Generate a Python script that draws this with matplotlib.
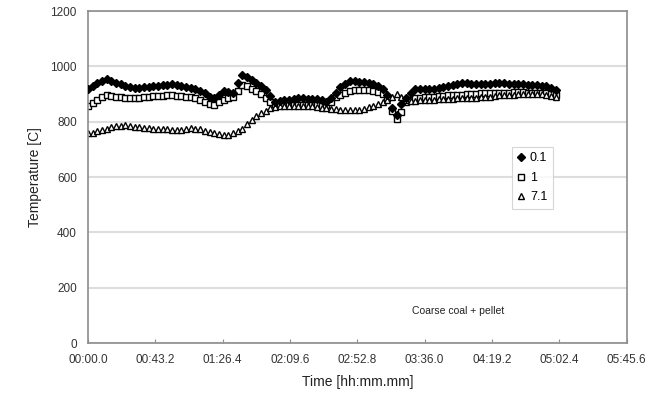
import matplotlib
matplotlib.use('Agg')
import numpy as np
import matplotlib.pyplot as plt

plt.rcParams['font.family'] = ['Liberation Sans', 'DejaVu Sans']

# time in seconds, one reading every 3 s
time_s = np.arange(0, 301, 3)

temp_01 = [920, 930, 940, 948, 955, 948, 940, 935, 930, 925,
           922, 922, 924, 926, 928, 930, 932, 934, 935, 932,
           928, 925, 922, 918, 910, 903, 890, 886, 898, 910,
           908, 905, 940, 968, 960, 950, 940, 928, 915, 892,
           872, 875, 878, 880, 882, 885, 884, 883, 882, 882,
           878, 872, 885, 905, 925, 938, 946, 946, 944, 942,
           940, 935, 928, 920, 895, 850, 825, 865, 885, 905,
           920, 920, 918, 917, 918, 922, 926, 930, 934, 937,
           940, 940, 938, 936, 935, 935, 937, 939, 940, 940,
           938, 936, 935, 935, 934, 932, 931, 930, 928, 922,
           915]

temp_1 = [855, 868, 880, 890, 895, 893, 890, 888, 886, 885,
          885, 886, 888, 890, 892, 893, 894, 895, 895, 894,
          893, 891, 890, 885, 878, 870, 864, 862, 870, 880,
          885, 888, 910, 932, 928, 920, 912, 900, 885, 872,
          865, 862, 860, 860, 860, 861, 861, 860, 860, 859,
          858, 860, 872, 888, 898, 905, 910, 913, 915, 915,
          914, 912, 908, 900, 885, 840, 810, 835, 870, 880,
          885, 887, 888, 889, 890, 892, 893, 895, 896, 897,
          898, 899, 900, 901, 902, 903, 904, 905, 905, 905,
          905, 906, 906, 906, 905, 905, 905, 905, 903, 899,
          895]

temp_71 = [758, 760, 765, 770, 775, 780, 784, 786, 787, 785,
           782, 780, 778, 776, 775, 774, 773, 772, 771, 770,
           771, 773, 776, 775, 772, 768, 763, 758, 755, 753,
           752, 758, 765, 775, 790, 805, 820, 830, 840, 848,
           852, 855, 857, 858, 858, 857, 856, 855, 855, 853,
           851, 849, 847, 845, 843, 842, 841, 841, 842, 846,
           852, 858, 864, 870, 877, 890, 900, 888, 878, 874,
           876, 877, 878, 880, 880, 881, 882, 882, 883, 884,
           884, 885, 886, 887, 888, 889, 891, 893, 895, 896,
           897, 898, 899, 899, 900, 900, 900, 900, 898, 894,
           890]

xticks = np.arange(0, 345.7, 43.2)
yticks = [0, 200, 400, 600, 800, 1000, 1200]


def fmt_time(s):
    m = int(s // 60)
    return '%02d:%04.1f' % (m, s - 60 * m)


fig = plt.figure(figsize=(6.71, 4.08), dpi=100)
ax = fig.add_axes([0.131, 0.159, 0.803, 0.814])

ax.plot(time_s, temp_01, linestyle='none', marker='D', markersize=4.5,
        color='black', label='0.1', zorder=3)
ax.plot(time_s, temp_1, linestyle='none', marker='s', markersize=5,
        markerfacecolor='white', markeredgecolor='black', markeredgewidth=1.0,
        label='1', zorder=2)
ax.plot(time_s, temp_71, linestyle='none', marker='^', markersize=5,
        markerfacecolor='white', markeredgecolor='black', markeredgewidth=1.0,
        label='7.1', zorder=2)

ax.set_xlim(0, 345.6)
ax.set_ylim(0, 1200)
ax.set_xticks(xticks)
ax.set_xticklabels([fmt_time(s) for s in xticks])
ax.set_yticks(yticks)
ax.grid(axis='y', color='#dddddd', linewidth=1.5, zorder=0)
ax.set_axisbelow(True)

for sp in ax.spines.values():
    sp.set_color('#8c8c8c')
    sp.set_linewidth(1.2)
ax.tick_params(axis='x', direction='in', length=3, color='#8c8c8c',
               labelsize=8.5, labelcolor='#333333', pad=8)
ax.tick_params(axis='y', length=0, labelsize=8.5, labelcolor='#333333', pad=8)

ax.set_xlabel('Time [hh:mm.mm]', fontsize=10, color='#222222', labelpad=6)
ax.set_ylabel('Temperature [C]', fontsize=10, color='#222222', labelpad=6)

leg = ax.legend(loc='upper left', bbox_to_anchor=(0.775, 0.61),
                frameon=True, fancybox=False, fontsize=9,
                handlelength=0.6, handletextpad=0.4, labelspacing=0.6,
                borderpad=0.45, markerscale=0.9)
leg.get_frame().set_edgecolor('#cccccc')
leg.get_frame().set_linewidth(0.8)

ax.text(0.601, 0.096, 'Coarse coal + pellet', transform=ax.transAxes,
        fontsize=7.5, color='#222222', va='center')

plt.savefig('out.png', dpi=100)
